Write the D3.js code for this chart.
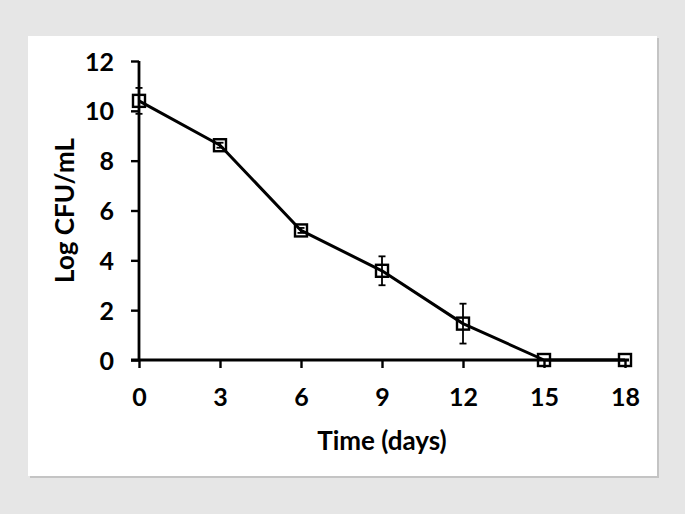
<!DOCTYPE html>
<html><head><meta charset="utf-8">
<script src="https://cdn.jsdelivr.net/npm/d3@7"></script>
<style>
html,body{margin:0;padding:0;background:#e6e6e6;}
svg{display:block;}
</style></head>
<body>
<script>
const days = [0, 3, 6, 9, 12, 15, 18];
const logCFU = [10.4, 8.62, 5.2, 3.58, 1.46, 0, 0];
const errors = [0.52, 0.1, 0.1, 0.58, 0.8, 0, 0];
const xTicks = [0, 3, 6, 9, 12, 15, 18];
const yTicks = [0, 2, 4, 6, 8, 10, 12];
const xTitle = "Time (days)";
const yTitle = "Log CFU/mL";

const W = 685, H = 514;
const svg = d3.select("body").append("svg").attr("width", W).attr("height", H);
svg.append("rect").attr("width", W).attr("height", H).attr("fill", "#e6e6e6");
// panel shadow
svg.append("rect").attr("x", 30).attr("y", 38).attr("width", 629).attr("height", 440).attr("fill", "#c4c4c4");
svg.append("rect").attr("x", 28).attr("y", 36).attr("width", 629).attr("height", 440).attr("fill", "#ffffff");

const x = d3.scaleLinear().domain([0, 18]).range([139, 625]);
const y = d3.scaleLinear().domain([0, 12]).range([360, 61]);
const font = "Lato, 'Open Sans', sans-serif";

const yAxis = svg.append("g").attr("transform", `translate(${x(0)},0)`)
  .call(d3.axisLeft(y).tickValues(yTicks).tickSize(8).tickPadding(17).tickFormat(d3.format("d")));
const xAxis = svg.append("g").attr("transform", `translate(0,${y(0)})`)
  .call(d3.axisBottom(x).tickValues(xTicks).tickSize(8).tickPadding(20).tickFormat(d3.format("d")));
[xAxis, yAxis].forEach(g => {
  g.select(".domain").attr("stroke", "#000").attr("stroke-width", 2.8);
  g.selectAll(".tick line").attr("stroke", "#000").attr("stroke-width", 2.4);
  g.selectAll(".tick text").attr("fill", "#000").style("font-family", font)
    .style("font-weight", 700).style("font-size", "25px");
});
yAxis.select(".domain").attr("d", `M0,${y(12)}V${y(0)}`);
xAxis.select(".domain").attr("d", `M${x(0)-8},0H${x(18)+4}`);
yAxis.selectAll(".tick text").attr("dy", "0.36em");
xAxis.selectAll(".tick text").attr("dy", "0.7em");

const data = days.map((d, i) => ({d, v: logCFU[i], e: errors[i]}));

svg.append("path").datum(data)
  .attr("fill", "none").attr("stroke", "#000").attr("stroke-width", 3)
  .attr("stroke-linejoin", "round")
  .attr("d", d3.line().x(p => x(p.d)).y(p => y(p.v)));

const eb = svg.append("g").attr("stroke", "#000").attr("stroke-width", 1.8);
data.filter(p => p.e > 0).forEach(p => {
  eb.append("line").attr("x1", x(p.d)).attr("x2", x(p.d)).attr("y1", y(p.v + p.e)).attr("y2", y(p.v - p.e));
  [p.v + p.e, p.v - p.e].forEach(v => eb.append("line")
    .attr("x1", x(p.d) - 3.5).attr("x2", x(p.d) + 3.5).attr("y1", y(v)).attr("y2", y(v)));
});

svg.append("g").selectAll("rect").data(data).join("rect")
  .attr("x", p => x(p.d) - 6).attr("y", p => y(p.v) - 6)
  .attr("width", 12).attr("height", 12)
  .attr("fill", "none").attr("stroke", "#000").attr("stroke-width", 2.4);

svg.append("text").attr("x", (x(0) + x(18)) / 2).attr("y", 450)
  .attr("text-anchor", "middle").style("font-family", font).style("font-weight", 700)
  .style("font-size", "26px").attr("fill", "#000").text(xTitle);
svg.append("text").attr("transform", `translate(74,${(y(0) + y(12)) / 2}) rotate(-90)`)
  .attr("text-anchor", "middle").style("font-family", font).style("font-weight", 700)
  .style("font-size", "26px").attr("fill", "#000").text(yTitle);
</script>
</body></html>
